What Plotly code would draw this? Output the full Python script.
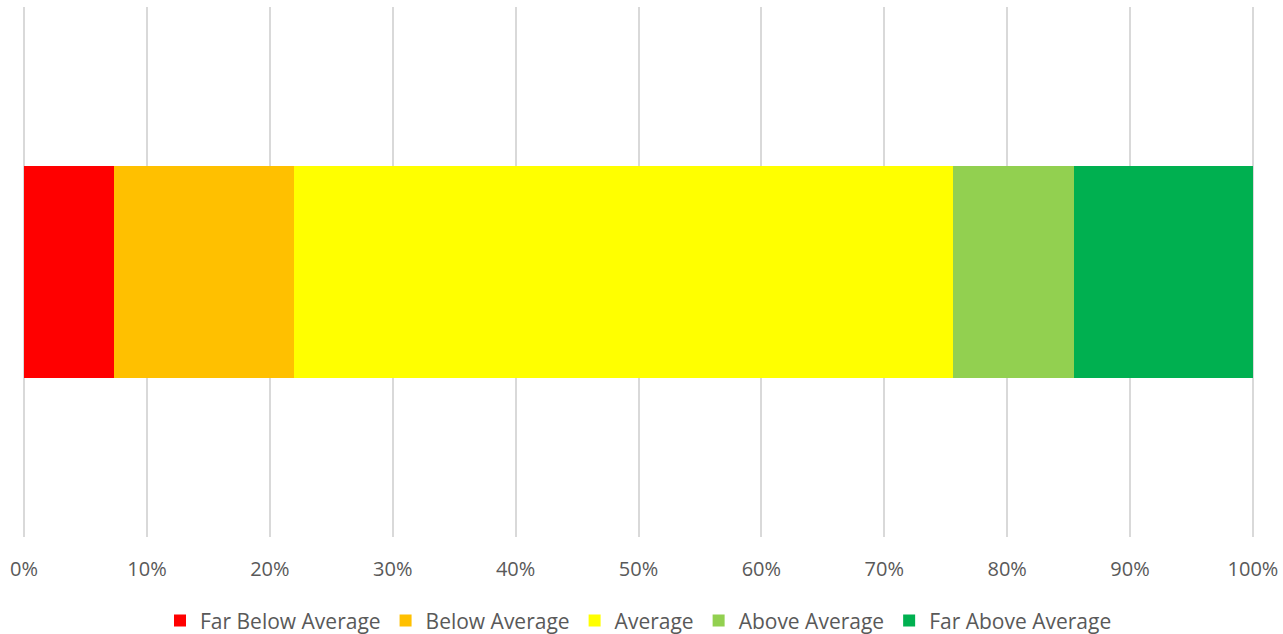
import plotly.graph_objects as go

categories = ["Far Below Average", "Below Average", "Average", "Above Average", "Far Above Average"]
values = [7.33, 14.66, 53.58, 9.85, 14.58]
colors = ["#FF0000", "#FFC000", "#FFFF00", "#92D050", "#00B050"]
row = [""]

fig = go.Figure()
for name, v, c in zip(categories, values, colors):
    fig.add_trace(go.Bar(
        y=row, x=[v], name=name, orientation="h",
        marker=dict(color=c, line=dict(width=0)),
        hoverinfo="name+x",
    ))

fig.update_layout(
    barmode="stack",
    bargap=0.6,
    width=1283, height=634,
    margin=dict(l=21, r=27, t=7, b=97, autoexpand=False),
    paper_bgcolor="white", plot_bgcolor="white",
    font=dict(family="'Open Sans', sans-serif", size=20, color="#595959"),
    xaxis=dict(
        range=[-0.25, 100.25], tickvals=list(range(0, 101, 10)),
        ticktext=[f"{t}%" for t in range(0, 101, 10)],
        showgrid=True, gridcolor="#D9D9D9", gridwidth=1.5,
        zeroline=False, showline=False, ticks="",
        ticklabelstandoff=18,
    ),
    yaxis=dict(showticklabels=False, showgrid=False, zeroline=False, showline=False),
    legend=dict(orientation="h", x=0.5, xanchor="center", y=-0.158, yanchor="middle",
                font=dict(size=21, color="#595959"), traceorder="normal",
                itemsizing="constant"),
    showlegend=True,
)

fig.write_html("out.html")
